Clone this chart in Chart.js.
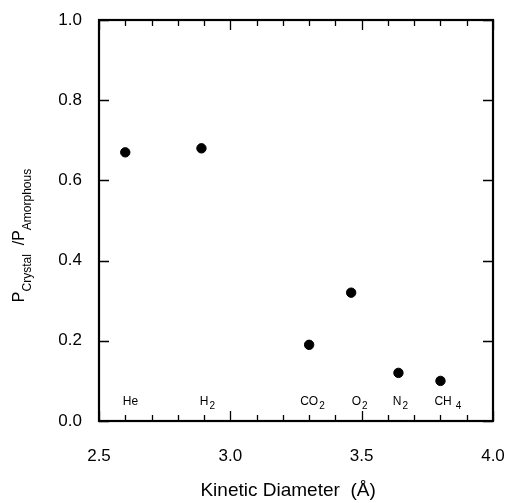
<!DOCTYPE html>
<html>
<head>
<meta charset="utf-8">
<script src="https://cdn.jsdelivr.net/npm/chart.js@4"></script>
<style>
  html, body { margin: 0; padding: 0; background: #fff; }
</style>
</head>
<body>
<canvas id="chart" width="510" height="503"></canvas>
<script>
// kinetic diameter (angstrom) and permeability ratio crystal / amorphous
const gasNames = ['He', 'H', 'CO', 'O', 'N', 'CH'];
const gasSubs = ['', '2', '2', '2', '2', '4'];
const kineticDiameter = [2.60, 2.89, 3.30, 3.46, 3.64, 3.80];
const permRatio = [0.67, 0.68, 0.19, 0.32, 0.12, 0.10];
const labelX = [2.62, 2.90, 3.30, 3.48, 3.635, 3.81];
const labelY = 0.04;
const xTicks = [2.5, 3.0, 3.5, 4.0];
const yTicks = [0.0, 0.2, 0.4, 0.6, 0.8, 1.0];

const FONT = '"Liberation Sans", Arial, Helvetica, sans-serif';

// frame, inward ticks, gas labels, y title
const framePlugin = {
  id: 'frame',
  afterDraw(chart) {
    const ctx = chart.ctx;
    const a = chart.chartArea;
    const xs = chart.scales.x;
    const ys = chart.scales.y;
    ctx.save();
    ctx.strokeStyle = '#000';
    ctx.lineWidth = 2.2;
    ctx.strokeRect(a.left, a.top, a.right - a.left, a.bottom - a.top);

    ctx.lineWidth = 1.3;
    ctx.beginPath();
    for (let i = 0; i <= 15; i++) {
      const v = 2.5 + i * 0.1;
      const px = Math.round(xs.getPixelForValue(v)) + 0.5;
      const len = (i % 5 === 0) ? 10 : 6;
      ctx.moveTo(px, a.bottom);
      ctx.lineTo(px, a.bottom - len);
      ctx.moveTo(px, a.top);
      ctx.lineTo(px, a.top + len);
    }
    yTicks.forEach(v => {
      const py = Math.round(ys.getPixelForValue(v)) + 0.5;
      ctx.moveTo(a.left, py);
      ctx.lineTo(a.left + 10, py);
      ctx.moveTo(a.right, py);
      ctx.lineTo(a.right - 10, py);
    });
    ctx.stroke();

    // gas labels (main text centred on labelX, subscript after it)
    ctx.fillStyle = '#000';
    ctx.textBaseline = 'alphabetic';
    gasNames.forEach((name, i) => {
      const cx = xs.getPixelForValue(labelX[i]);
      const by = ys.getPixelForValue(labelY);
      ctx.font = '12px ' + FONT;
      const w1 = ctx.measureText(name).width;
      const x0 = cx - w1 / 2;
      ctx.textAlign = 'left';
      ctx.fillText(name, x0, by);
      if (gasSubs[i]) {
        ctx.font = '10px ' + FONT;
        ctx.fillText(gasSubs[i], x0 + w1 + (name === 'CH' ? 4 : 1), by + 4);
      }
    });

    // y axis title with subscripts
    const cy = (a.top + a.bottom) / 2 + 15;
    const parts = [
      { t: 'P', size: 16, dy: 0 },
      { t: 'Crystal', size: 12, dy: 7 },
      { t: '  /P', size: 16, dy: 0 },
      { t: 'Amorphous', size: 12, dy: 7 }
    ];
    let total = 0;
    parts.forEach(p => {
      ctx.font = p.size + 'px ' + FONT;
      p.w = ctx.measureText(p.t).width;
      total += p.w;
    });
    ctx.translate(24, cy);
    ctx.rotate(-Math.PI / 2);
    let x = -total / 2;
    parts.forEach(p => {
      ctx.font = p.size + 'px ' + FONT;
      ctx.fillText(p.t, x, p.dy);
      x += p.w;
    });
    ctx.restore();
  }
};

new Chart(document.getElementById('chart'), {
  type: 'scatter',
  data: {
    datasets: [{
      data: kineticDiameter.map((d, i) => ({ x: d, y: permRatio[i] })),
      backgroundColor: '#000',
      borderColor: '#000',
      pointRadius: 4.7,
      pointHoverRadius: 4.7
    }]
  },
  options: {
    responsive: false,
    animation: false,
    layout: { padding: { top: 20, right: 17, left: 0, bottom: 0 } },
    plugins: { legend: { display: false }, tooltip: { enabled: false } },
    scales: {
      x: {
        type: 'linear',
        min: 2.5,
        max: 4.0,
        afterBuildTicks: scale => { scale.ticks = xTicks.map(v => ({ value: v })); },
        afterFit: scale => {
          scale.height = 82;
          scale.paddingLeft = 0;
          scale.paddingRight = 0;
        },
        grid: { display: false },
        border: { display: false },
        ticks: {
          padding: 17,
          color: '#000',
          font: { family: FONT, size: 17 },
          callback: v => v.toFixed(1)
        },
        title: {
          display: true,
          text: 'Kinetic Diameter  (Å)\u00a0\u00a0\u00a0',
          color: '#000',
          font: { family: FONT, size: 19 },
          padding: { top: 0, bottom: 1 }
        }
      },
      y: {
        min: 0,
        max: 1.0,
        afterBuildTicks: scale => { scale.ticks = yTicks.map(v => ({ value: v })); },
        afterFit: scale => {
          scale.width = 99;
          scale.paddingTop = 0;
          scale.paddingBottom = 0;
        },
        grid: { display: false },
        border: { display: false },
        ticks: {
          padding: 9,
          color: '#000',
          font: { family: FONT, size: 17 },
          callback: v => v.toFixed(1)
        }
      }
    }
  },
  plugins: [framePlugin]
});
</script>
</body>
</html>
